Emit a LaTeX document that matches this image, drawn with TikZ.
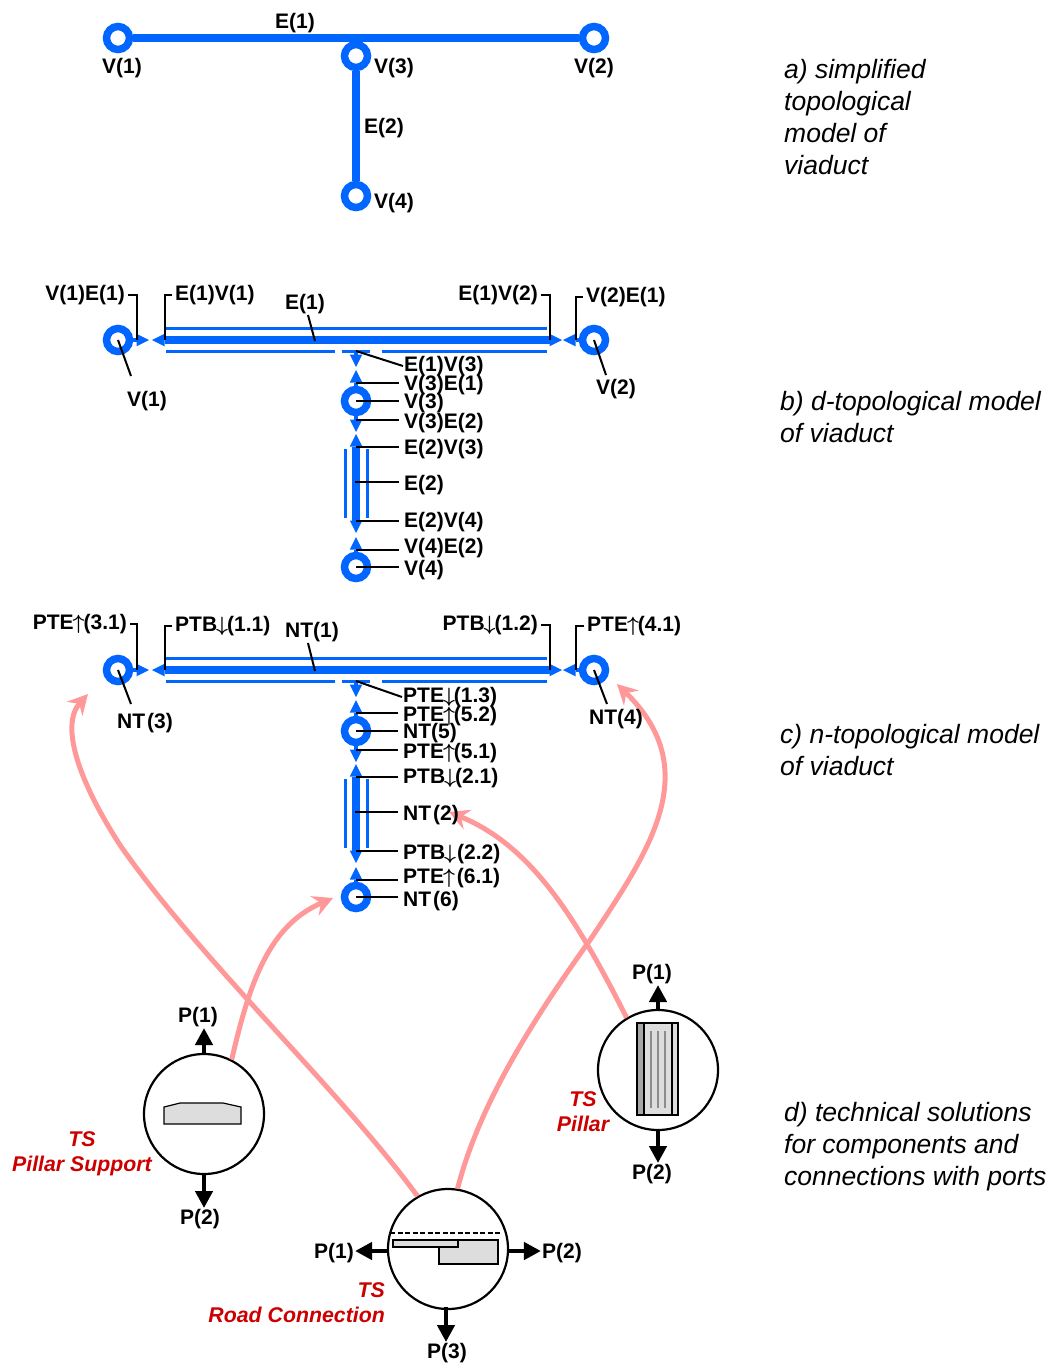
\documentclass[tikz,border=0pt]{standalone}
\usepackage{fontspec}
\setmainfont{Liberation Sans}
\usetikzlibrary{shapes.geometric, arrows.meta}
\definecolor{vblue}{RGB}{0,102,255}
\definecolor{tspink}{RGB}{255,153,153}
\definecolor{tsred}{RGB}{204,0,0}
\definecolor{tsgrey}{RGB}{221,221,221}
\newcommand{\aup}{{\kern-1pt\boldmath$\uparrow$\kern-1pt}}
\newcommand{\adn}{{\kern-1pt\boldmath$\downarrow$\kern-1pt}}
\begin{document}
\begin{tikzpicture}[x=1pt, y=-1pt,
   ring/.style  = {circle, draw=vblue, fill=white, line width=7.5pt, minimum size=23pt, inner sep=0pt},
   tri/.style   = {isosceles triangle, isosceles triangle stretches, fill=vblue, inner sep=0pt,
                   outer sep=0pt, minimum height=12.5pt, minimum width=12.5pt},
   bigbar/.style= {draw=vblue, line width=8.5pt},
   thinbar/.style={draw=vblue, line width=3pt},
   neck/.style  = {draw=vblue, line width=3.5pt},
   lead/.style  = {draw=black, line width=2pt},
   lab/.style   = {font=\fontsize{21}{25}\selectfont\bfseries, inner sep=1pt, yshift=-2pt},
   note/.style  = {font=\fontsize{26.5}{32}\selectfont\itshape, anchor=west, align=left, inner sep=0pt},
   tslab/.style = {font=\fontsize{21.3}{25}\selectfont\bfseries\itshape, text=tsred, inner sep=0pt},
   ts/.style    = {circle, draw=black, fill=white, line width=2.2pt, minimum size=120pt, inner sep=0pt},
   part/.style  = {draw=black, fill=tsgrey, line width=1.2pt},
   port/.style  = {draw=black, line width=4.5pt, -{Triangle[length=17pt, width=17pt]}},
   link/.style  = {draw=tspink, line width=5pt, -{Stealth[length=20pt, width=21pt, inset=7pt]}}]

  \useasboundingbox (0,0) rectangle (1052,1363);

  % ---- d) technical solutions ----------------------------------------------
  \node[ts] (tsa) at (204,1114) {};
  \node[ts] (tsb) at (658,1070) {};
  \node[ts] (tsc) at (448,1249) {};
  \draw[part] (164,1124) -- (241,1124) -- (241,1107) -- (223,1103) -- (180,1103) -- (164,1107) -- cycle;
  % pillar
  \draw[part] (637,1023) rectangle (678,1115);
  \fill[black!35] (637,1023) rectangle (644,1115);
  \draw[line width=1.2pt] (637,1023) rectangle (644,1115);
  \draw[line width=1.2pt] (672,1023) -- (672,1115);
  \foreach \x in {651,658,665} \draw[black!45, line width=1.4pt] (\x,1031) -- (\x,1108);
  % road connection
  \draw[line width=2pt, dash pattern=on 5pt off 2.5pt] (390,1233) -- (501,1233);
  \draw[part] (439,1247) -- (439,1264) -- (498,1264) -- (498,1240) -- (458,1240) -- (458,1247) -- cycle;
  \draw[part] (393,1240) rectangle (458,1247);

  \node[lab] (pa1) at (198,1015) {P(1)};
  \node[lab] (pa2) at (200,1217) {P(2)};
  \node[lab] (pb1) at (652,972)  {P(1)};
  \node[lab] (pb2) at (652,1172) {P(2)};
  \node[lab] (pc1) at (334,1251) {P(1)};
  \node[lab] (pc2) at (562,1251) {P(2)};
  \node[lab] (pc3) at (447,1351) {P(3)};
  \coordinate (pcl) at (388,1251);
  \coordinate (pcr) at (508,1251);
  \coordinate (pcb) at (446,1307);
  \draw[port] (tsa.north) -- (tsa.north |- pa1.south);
  \draw[port] (tsa.south) -- (tsa.south |- pa2.north);
  \draw[port] (tsb.north) -- (tsb.north |- pb1.south);
  \draw[port] (tsb.south) -- (tsb.south |- pb2.north);
  \draw[port] (pcl) -- (pcl -| pc1.east);
  \draw[port] (pcr) -- (pcr -| pc2.west);
  \draw[port] (pcb) -- (pcb |- pc3.north);

  \node[tslab, align=center] (tla) at (82,1154)  {TS\\Pillar Support};
  \node[tslab, align=center] (tlb) at (583,1112) {TS\\Pillar};
  \node[tslab, align=right, anchor=east] (tlc) at (385,1303) {TS\\Road Connection};

  % ---- links from solutions to the model -----------------------------------
  \coordinate (tipa) at (88,694);
  \coordinate (tipb) at (617,684);
  \coordinate (tipc) at (333,898);
  \coordinate (tipd) at (449,812);
  \draw[link] (tsc.120) .. controls (340,1090) and (200,960) .. (120,845)
                        .. controls (78,780) and (60,725) .. (tipa);
  \draw[link] (tsc.81) .. controls (480,1100) and (540,1010) .. (590,940)
                       .. controls (650,850) and (705,770) .. (tipb);
  \draw[link] (tsa.63) .. controls (250,980) and (270,925) .. (tipc);
  \draw[link] (tsb.121) .. controls (575,915) and (530,845) .. (tipd);

  % ---- a) simplified model -------------------------------------------------
  \node[ring] (av1) at (118,38)  {};
  \node[ring] (av2) at (594,38)  {};
  \node[ring] (av3) at (356,56)  {};
  \node[ring] (av4) at (356,196) {};
  \draw[bigbar] (av1) -- (av2);
  \draw[bigbar] (av3) -- (av4);
  \node[lab] (lae1) at (295,21)  {E(1)};
  \node[lab] (lav1) at (122,66)  {V(1)};
  \node[lab] (lav3) at (394,66)  {V(3)};
  \node[lab] (lav2) at (594,66)  {V(2)};
  \node[lab] (lae2) at (384,126) {E(2)};
  \node[lab] (lav4) at (394,201) {V(4)};

  % ---- b) and c) share the same skeleton -----------------------------------
  \foreach \p/\dy in {d/0,n/330} {
   \begin{scope}[yshift=-\dy pt]
     \node[ring] (\p v1) at (118,340) {};
     \node[ring] (\p v2) at (594,340) {};
     \node[ring] (\p v3) at (356,401) {};
     \node[ring] (\p v4) at (356,567) {};
     \node[tri, anchor=apex, shape border rotate=0]   (\p t1) at (149,340) {};
     \node[tri, anchor=apex, shape border rotate=180] (\p t2) at (152,340) {};
     \node[tri, anchor=apex, shape border rotate=0]   (\p t3) at (562,340) {};
     \node[tri, anchor=apex, shape border rotate=180] (\p t4) at (563,340) {};
     \node[tri, anchor=apex, shape border rotate=270] (\p t5) at (356,367) {};
     \node[tri, anchor=apex, shape border rotate=90]  (\p t6) at (356,370) {};
     \node[tri, anchor=apex, shape border rotate=270] (\p t7) at (356,432) {};
     \node[tri, anchor=apex, shape border rotate=90]  (\p t8) at (356,434) {};
     \node[tri, anchor=apex, shape border rotate=270] (\p t9) at (356,533) {};
     \node[tri, anchor=apex, shape border rotate=90]  (\p t10) at (356,537) {};
     \draw[bigbar] (\p t2.lower side) -- (\p t3.lower side);
     \draw[bigbar] (\p t8.lower side) -- (\p t9.lower side);
     \draw[neck] (\p v1) -- (\p t1.lower side);
     \draw[neck] (\p v2) -- (\p t4.lower side);
     \draw[neck] (\p v3) -- (\p t6.lower side);
     \draw[neck] (\p v3) -- (\p t7.lower side);
     \draw[neck] (\p v4) -- (\p t10.lower side);
     \draw[neck] (356,351) -- (\p t5.lower side);
     \draw[thinbar] (166,328) -- (547,328);
     \foreach \a/\b in {166/335,342/370,382/547} \draw[thinbar] (\a,351) -- (\b,351);
     \draw[thinbar] (345,449) -- (345,518);
     \draw[thinbar] (367,449) -- (367,518);
     \coordinate (\p e1) at (315,341);
     \coordinate (\p e2) at (355,482);
   \end{scope}
  }

  % ---- b) labels -----------------------------------------------------------
  \node[lab, anchor=east] (ldve1) at (126,293) {V(1)E(1)};
  \node[lab, anchor=west] (ldev1) at (174,293) {E(1)V(1)};
  \node[lab, anchor=east] (ldev2) at (539,293) {E(1)V(2)};
  \node[lab, anchor=west] (ldve2) at (585,295) {V(2)E(1)};
  \node[lab] (lde1) at (305,302) {E(1)};
  \node[lab] (ldv1) at (147,399) {V(1)};
  \node[lab] (ldv2) at (616,387) {V(2)};
  \draw[lead, shorten <=2pt] (ldve1.east) -| (dt1.lower side);
  \draw[lead, shorten <=2pt] (ldev1.west) -| (dt2.lower side);
  \draw[lead, shorten <=2pt] (ldev2.east) -| (dt3.lower side);
  \draw[lead, shorten <=2pt] (ldve2.west) -| (dt4.lower side);
  \draw[lead] (lde1.south) ++(3,0) -- (de1);
  \draw[lead] (dv1.center) -- (131,376);
  \draw[lead] (dv2.center) -- (606,375);
  \node[lab, anchor=west] (ldt5) at (403,364) {E(1)V(3)};
  \draw[lead] (356,351) -- (ldt5.west);
  \foreach \n/\y/\t/\tgt in {%
      a/383/{V(3)E(1)}/dt6.lower side,
      b/401/{V(3)}/dv3.center,
      c/421/{V(3)E(2)}/dt7.lower side,
      d/447/{E(2)V(3)}/dt8.lower side,
      e/483/{E(2)}/de2,
      f/520/{E(2)V(4)}/dt9.lower side,
      g/546/{V(4)E(2)}/dt10.lower side,
      h/568/{V(4)}/dv4.center} {
     \node[lab, anchor=west] (ld\n) at (403,\y) {\t};
     \draw[lead, shorten >=4pt] (\tgt) -- (\tgt -| ld\n.west);
  }

  % ---- c) labels -----------------------------------------------------------
  \node[lab, anchor=east] (lnve1) at (128,622) {PTE\aup(3.1)};
  \node[lab, anchor=west] (lnev1) at (174,624) {PTB\adn(1.1)};
  \node[lab, anchor=east] (lnev2) at (539,623) {PTB\adn(1.2)};
  \node[lab, anchor=west] (lnve2) at (586,624) {PTE\aup(4.1)};
  \node[lab] (lne1) at (312,630) {NT(1)};
  \node[lab] (lnv1) at (145,721) {NT\kern2pt(3)};
  \node[lab] (lnv2) at (616,717) {NT(4)};
  \draw[lead, shorten <=2pt] (lnve1.east) -| (nt1.lower side);
  \draw[lead, shorten <=2pt] (lnev1.west) -| (nt2.lower side);
  \draw[lead, shorten <=2pt] (lnev2.east) -| (nt3.lower side);
  \draw[lead, shorten <=2pt] (lnve2.west) -| (nt4.lower side);
  \draw[lead] (lne1.south) ++(-4,0) -- (ne1);
  \draw[lead] (nv1.center) -- (131,704);
  \draw[lead] (nv2.center) -- (607,704);
  \node[lab, anchor=west] (lnt5) at (402,695) {PTE\adn(1.3)};
  \draw[lead] (356,681) -- (lnt5.west);
  \foreach \n/\y/\t/\tgt in {%
      a/714/{PTE\aup(5.2)}/nt6.lower side,
      b/731/{NT(5)}/nv3.center,
      c/751/{PTE\aup(5.1)}/nt7.lower side,
      d/776/{PTB\adn(2.1)}/nt8.lower side,
      e/813/{NT\kern2pt(2)}/ne2,
      f/852/{PTB\adn\kern2pt(2.2)}/nt9.lower side,
      g/876/{PTE\aup\kern3pt(6.1)}/nt10.lower side,
      h/899/{NT\kern2pt(6)}/nv4.center} {
     \node[lab, anchor=west] (ln\n) at (402,\y) {\t};
     \draw[lead, shorten >=4pt] (\tgt) -- (\tgt -| ln\n.west);
  }

  % ---- captions ------------------------------------------------------------
  \node[note] (capa) at (784,117)  {a) simplified\\topological\\model of\\viaduct};
  \node[note] (capb) at (780,417)  {b) d-topological model\\of viaduct};
  \node[note] (capc) at (780,750)  {c) n-topological model\\of viaduct};
  \node[note] (capd) at (784,1147) {d) technical solutions\\for components and\\connections with ports};
\end{tikzpicture}
\end{document}
